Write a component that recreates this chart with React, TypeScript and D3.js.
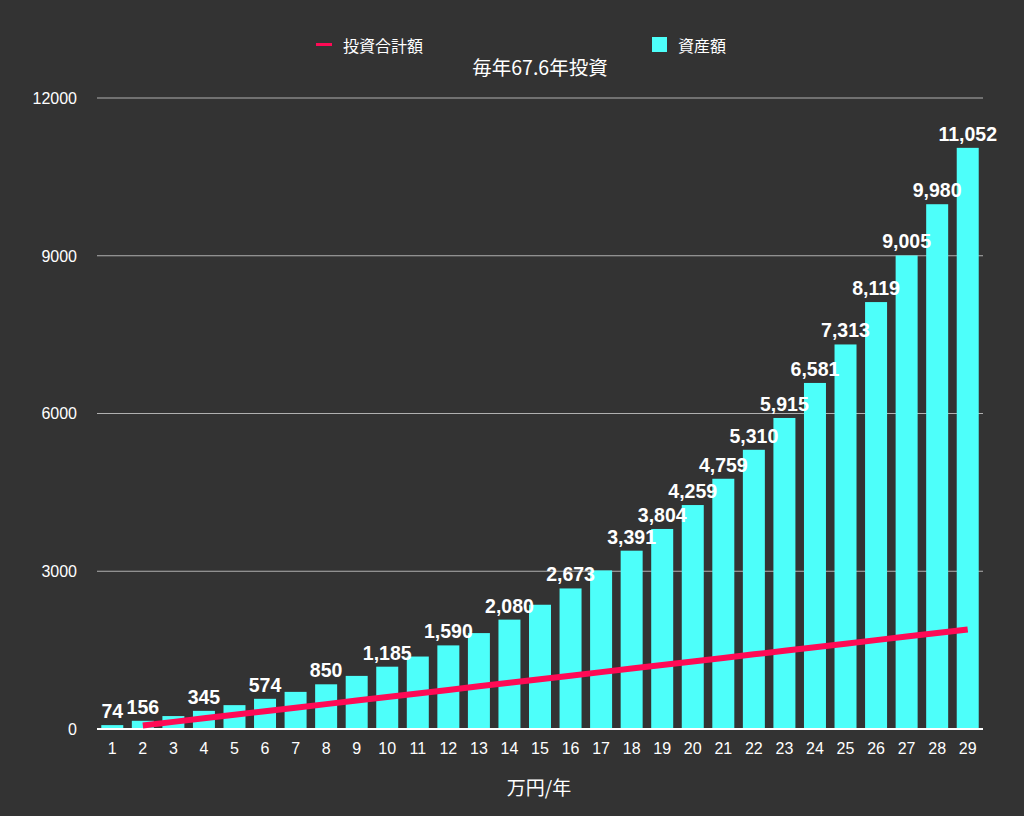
import React from "react";
import * as d3 from "d3";

const years: string[] = ["1","2","3","4","5","6","7","8","9","10","11","12","13","14","15","16","17","18","19","20","21","22","23","24","25","26","27","28","29"];
const assets: number[] = [74,156,246,345,454,574,706,850,1010,1185,1378,1590,1824,2080,2363,2673,3016,3391,3804,4259,4759,5310,5915,6581,7313,8119,9005,9980,11052];
const labelShown: boolean[] = [true,true,false,true,false,true,false,true,false,true,false,true,false,true,false,true,false,true,true,true,true,true,true,true,true,true,true,true,true];
const investYears: string[] = ["2","3","4","5","6","7","8","9","10","11","12","13","14","15","16","17","18","19","20","21","22","23","24","25","26","27","28","29"];
const investTotal: number[] = [67.6,135.2,202.8,270.4,338,405.6,473.2,540.8,608.4,676,743.6,811.2,878.8,946.4,1014,1081.6,1149.2,1216.8,1284.4,1352,1419.6,1487.2,1554.8,1622.4,1690,1757.6,1825.2,1892.8];
const yTicks: number[] = [0,3000,6000,9000,12000];

const W = 1024, H = 816;
const left = 97, right = 983, top = 98, bottom = 729;
const BG = "#333333", BAR = "#4dfffa", LINE = "#ff0a55";
const FONT = "'Liberation Sans', Arial, 'Noto Sans CJK JP', sans-serif";
const CJK = "'Noto Sans CJK JP', 'Liberation Sans', sans-serif";

export default function App() {
  const x = d3.scaleBand<string>().domain(years).range([left, right]).paddingInner(0.28).paddingOuter(0.14);
  const y = d3.scaleLinear().domain([0, 12000]).range([bottom, top]);
  const line = d3.line<number>()
    .x((_, i) => (x(investYears[i]) as number) + x.bandwidth() / 2)
    .y((d) => y(d));
  const fmt = d3.format(",");
  return (
    <div style={{ position: "absolute", left: 0, top: 0, width: W, height: H, background: BG }}>
      <svg width={W} height={H} style={{ display: "block" }}>
        <rect x={0} y={0} width={W} height={H} fill={BG} />
        {yTicks.filter((t) => t > 0).map((t) => (
          <line key={t} x1={left} x2={right} y1={y(t)} y2={y(t)} stroke="#b0b0b0" strokeWidth={1} />
        ))}
        {yTicks.map((t) => (
          <text key={"yl" + t} x={77} y={y(t)} dy="0.36em" textAnchor="end" fill="#ffffff" fontSize={16} fontFamily={FONT}>{t}</text>
        ))}
        {assets.map((v, i) => (
          <rect key={"b" + i} x={x(years[i])} y={y(v)} width={x.bandwidth()} height={y(0) - y(v)} fill={BAR} />
        ))}
        <line x1={left} x2={right} y1={bottom} y2={bottom} stroke="#ffffff" strokeWidth={2} />
        {years.map((c) => (
          <text key={"xl" + c} x={(x(c) as number) + x.bandwidth() / 2} y={754} textAnchor="middle" fill="#ffffff" fontSize={16} fontFamily={FONT}>{c}</text>
        ))}
        <path d={line(investTotal) || ""} fill="none" stroke={LINE} strokeWidth={6} />
        {assets.map((v, i) => labelShown[i] ? (
          <text key={"dl" + i} x={(x(years[i]) as number) + x.bandwidth() / 2} y={y(v) - 7} textAnchor="middle" fill="#ffffff" fontSize={19.5} fontWeight="bold" fontFamily={FONT}>{fmt(v)}</text>
        ) : null)}
        <text x={540} y={75} textAnchor="middle" fill="#ffffff" fontSize={19.5} fontFamily={CJK}>毎年67.6年投資</text>
        <line x1={316} x2={332} y1={44.5} y2={44.5} stroke={LINE} strokeWidth={3} />
        <text x={343} y={51.5} fill="#ffffff" fontSize={16} fontFamily={CJK}>投資合計額</text>
        <rect x={652} y={37} width={15} height={15} fill={BAR} />
        <text x={678} y={51.5} fill="#ffffff" fontSize={16} fontFamily={CJK}>資産額</text>
        <text x={539} y={795} textAnchor="middle" fill="#ffffff" fontSize={19} fontFamily={CJK}>万円/年</text>
      </svg>
    </div>
  );
}
